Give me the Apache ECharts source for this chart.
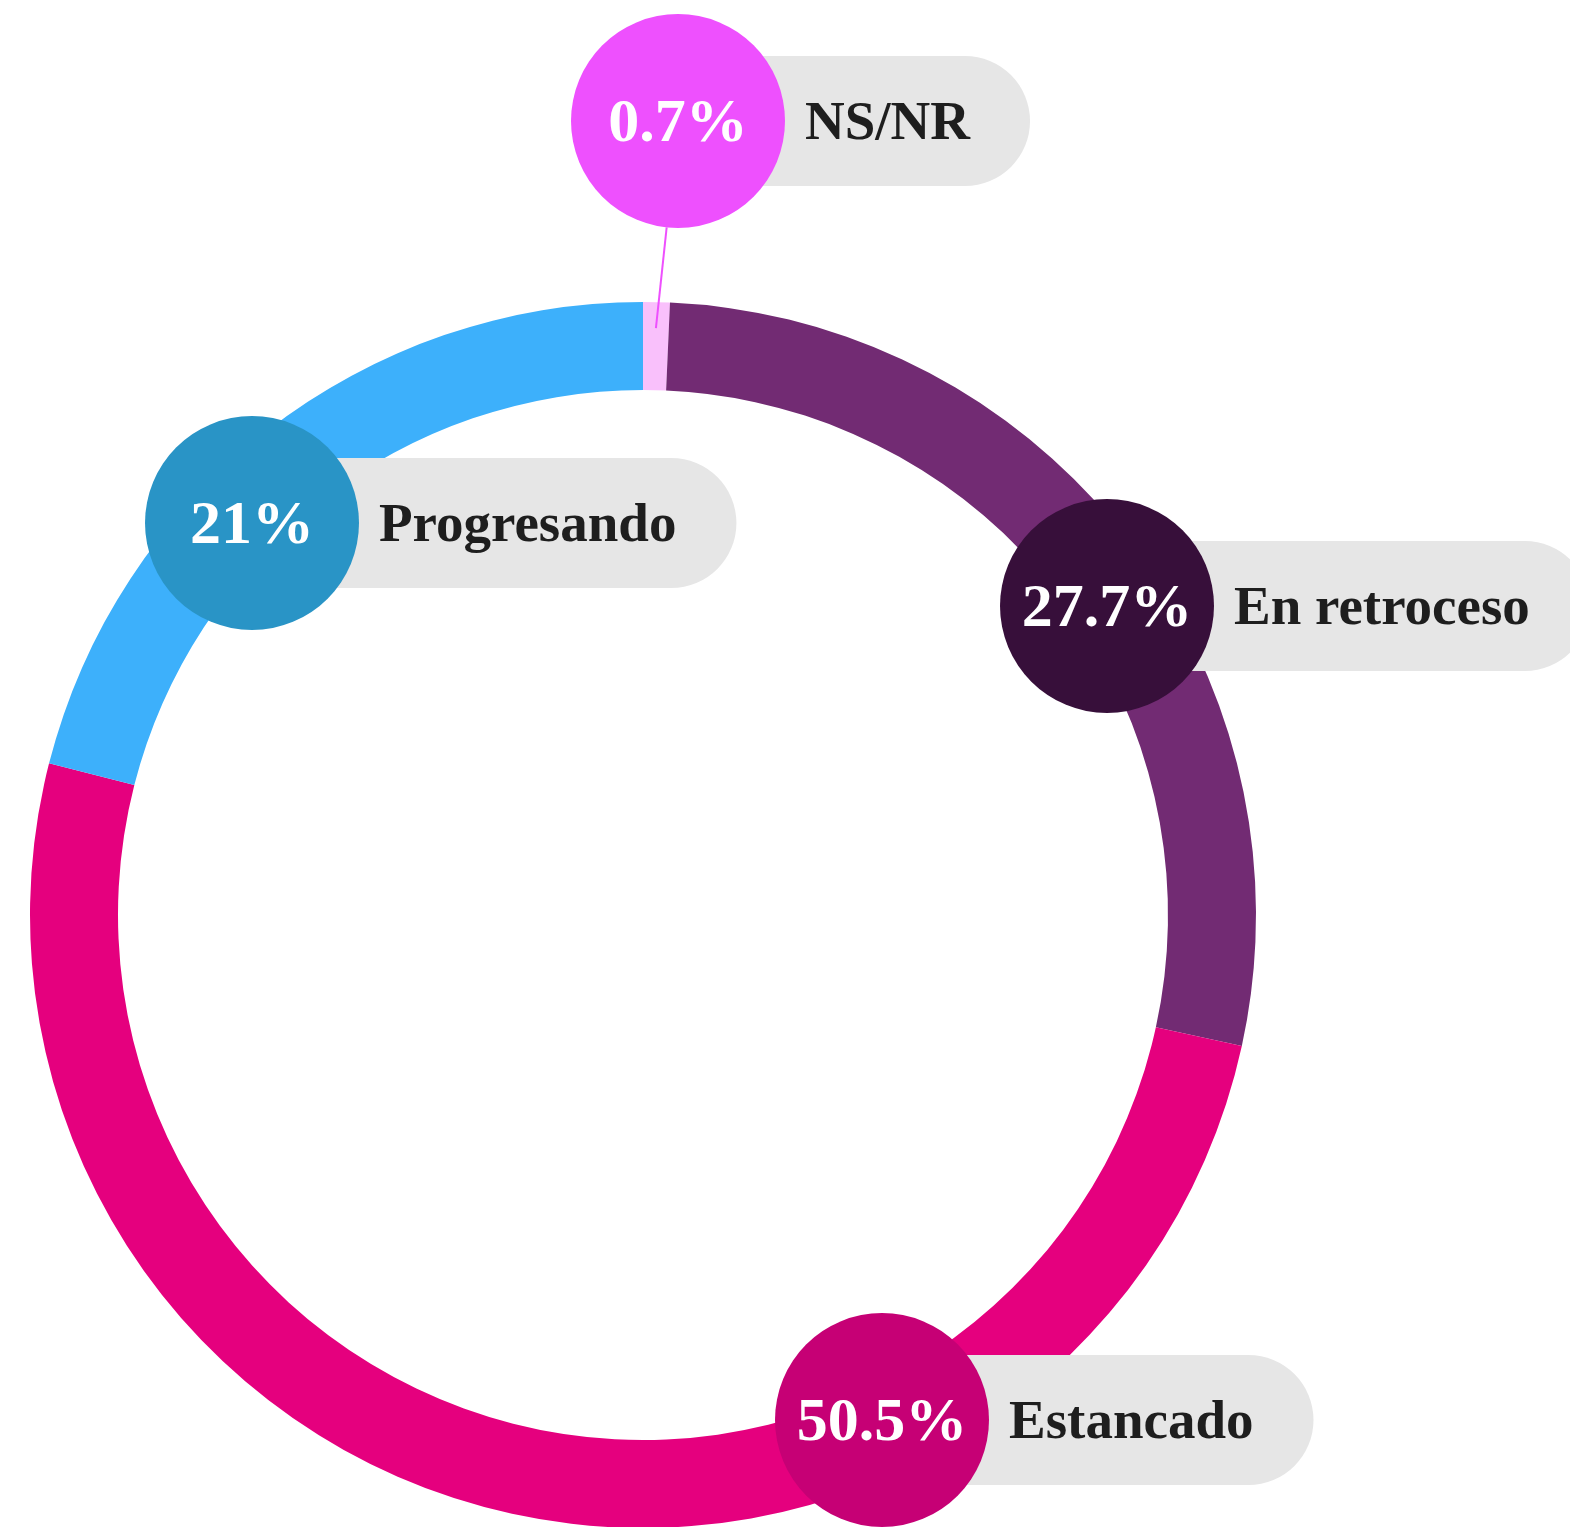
<!DOCTYPE html>
<html>
<head>
<meta charset="utf-8">
<script src="https://cdn.jsdelivr.net/npm/echarts@6/dist/echarts.min.js"></script>
<style>
  html, body { margin: 0; padding: 0; background: #fff; }
  #chart { width: 1570px; height: 1527px; }
</style>
</head>
<body>
<div id="chart"></div>
<script>
// data
const categories = ['NS/NR', 'En retroceso', 'Estancado', 'Progresando']
const values = [0.7, 27.7, 50.5, 21]

// styles
const ringColors = ['#f9c0fb', '#722b73', '#e5007e', '#3db0fb']
const bubbleColors = ['#ee50fe', '#370f3a', '#c60075', '#2994c6']

// label bubble offsets from the pie centre (px)
const labelOffsets = [[35, -794], [464, -309], [239, 505], [-391, -392]]

const cx = 643, cy = 915
const rIn = 525, rOut = 613
const bubbleR = 107
const fontFam = '"Liberation Serif", "DejaVu Serif", serif'
const nameFont = 'bold 55px ' + fontFam

const chart = echarts.init(document.getElementById('chart'))

// measure text width for the pill length
const ctx = document.createElement('canvas').getContext('2d')
const textWidth = (txt, font) => {
    ctx.font = font
    return ctx.measureText(txt).width
}

const buildGraphics = () => {
    const els = []
    const total = values.reduce((a, b) => a + b, 0)
    let acc = 0
    values.forEach((v, i) => {
        const bx = cx + labelOffsets[i][0]
        const by = cy + labelOffsets[i][1]
        const tx = bx + bubbleR + 20
        const w = tx + textWidth(categories[i], nameFont) + 60 - bx
        // grey pill
        els.push({
            type: 'rect', z: 10, silent: true,
            shape: { x: bx, y: by - 65, width: w, height: 130, r: 65 },
            style: { fill: '#e6e6e6' }
        })
        els.push({
            type: 'text', z: 11, x: tx, y: by + 4, silent: true,
            style: {
                text: categories[i],
                font: nameFont,
                fill: '#1e1e1e',
                align: 'left',
                verticalAlign: 'middle'
            }
        })
        // bubble
        els.push({
            type: 'circle', z: 12, silent: true,
            shape: { cx: bx, cy: by, r: bubbleR },
            style: { fill: bubbleColors[i] }
        })
        els.push({
            type: 'text', z: 13, x: bx, y: by + 4, silent: true,
            style: {
                text: v + '%',
                font: 'bold 62px ' + fontFam,
                fill: '#fff',
                align: 'center',
                verticalAlign: 'middle'
            }
        })
        // leader line for the tiny slice
        if (v < 2) {
            const mid = (acc + v / 2) / total * Math.PI * 2
            const sr = (rIn + rOut) / 2 + 18
            const sx = cx + sr * Math.sin(mid)
            const sy = cy - sr * Math.cos(mid)
            const dx = sx - bx, dy = sy - by
            const d = Math.sqrt(dx * dx + dy * dy)
            els.push({
                type: 'line', z: 9, silent: true,
                shape: { x1: sx, y1: sy, x2: bx + dx / d * bubbleR, y2: by + dy / d * bubbleR },
                style: { stroke: bubbleColors[i], lineWidth: 2 }
            })
        }
        acc += v
    })
    return els
}

const options = {
    animation: false,
    series: [
        {
            type: 'pie',
            center: [cx, cy],
            radius: [rIn, rOut],
            startAngle: 90,
            clockwise: true,
            silent: true,
            label: { show: false },
            labelLine: { show: false },
            itemStyle: { borderWidth: 0 },
            data: categories.map((name, i) => ({
                name: name,
                value: values[i],
                itemStyle: { color: ringColors[i] }
            }))
        }
    ],
    graphic: buildGraphics()
}

chart.setOption(options)
</script>
</body>
</html>
